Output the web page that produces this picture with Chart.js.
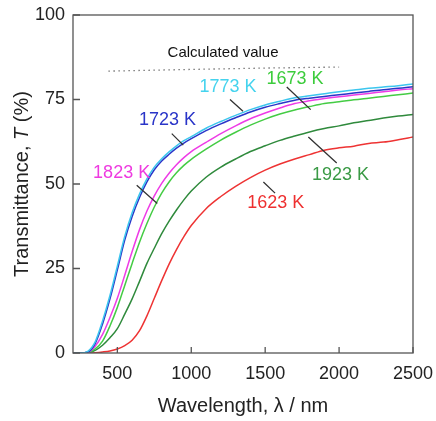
<!DOCTYPE html>
<html><head><meta charset="utf-8">
<script src="https://cdn.jsdelivr.net/npm/chart.js@4"></script>
<style>html,body{margin:0;padding:0;background:#fff;} #wrap{width:436px;height:421px;}</style>
</head><body><div id="wrap"><canvas id="c" width="436" height="421"></canvas></div>
<script>
// ---- data ----
const wavelengths = [200,250,300,350,400,450,500,550,600,650,700,750,800,850,900,950,1000,1100,1200,1300,1400,1500,1600,1700,1800,1900,2000,2100,2200,2300,2400,2500];
const t1623 = [0,0,0,0.1,0.3,0.6,1.2,2.2,3.8,6.6,11,16.2,21.4,26.3,30.6,34.4,37.7,42.7,46.3,49.3,51.9,54.1,55.9,57.4,58.7,60,60.7,61.2,62,62.4,63.1,63.9];
const t1673 = [0,0,0.1,1.2,3.5,8,13.5,20,26.5,32.8,38.3,43.2,47.3,50.6,53.3,55.5,57.3,60.3,63,65.3,67.4,69.2,70.7,71.9,72.9,73.8,74.3,74.9,75.4,75.9,76.4,76.9];
const t1723 = [0,0,0.3,2.8,8.6,16,24.6,33.4,40.4,46,50.6,54.2,56.8,58.8,60.6,62.1,63.4,65.8,67.8,69.6,71.3,72.7,73.8,74.8,75.4,75.9,76.4,76.9,77.4,77.9,78.3,78.8];
const t1773 = [0,0,0.5,3.3,9.5,17,25.7,34.5,41.5,47,51.5,55,57.5,59.5,61.3,62.8,64,66.5,68.5,70.3,72,73.4,74.5,75.5,76.1,76.7,77.3,77.8,78.3,78.7,79.1,79.6];
const t1823 = [0,0,0.2,2,5.5,10.5,16.2,23,30,36.5,42,46.5,50.2,53.2,55.7,57.8,59.6,62.3,64.9,67.2,69.3,71,72.5,73.8,74.6,75.3,75.8,76.3,76.8,77.3,77.8,78.2];
const t1923 = [0,0,0.1,0.8,2.3,4.5,7.2,11.5,16,21.2,26.5,31,35.3,39,42.3,45.3,47.9,52,55,57.4,59.6,61.3,62.9,64.2,65.4,66.4,67.2,68.1,68.8,69.5,70.1,70.6];
const calcWavelengths = [440,1000,1500,2000];
const calcValues = [83.4,83.9,84.3,84.6];
const xTickValues = [500,1000,1500,2000,2500];
const yTickValues = [0,25,50,75,100];

// ---- styles / annotations ----
const FONT = '"Liberation Sans", Arial, Helvetica, sans-serif';
const AXIS = '#555';
const annotations = [
  {text:'1773 K', color:'#45d3ee', at:[1249,78.6], from:[1262,75.0], to:[1350,71.5]},
  {text:'1673 K', color:'#3ccc3c', at:[1702,81.2], from:[1646,78.7], to:[1808,72.0]},
  {text:'1723 K', color:'#2a35c8', at:[839,69.0], from:[868,64.9], to:[946,61.5]},
  {text:'1823 K', color:'#ee3be0', at:[529,53.3], from:[631,49.6], to:[770,44.2]},
  {text:'1923 K', color:'#3a9a45', at:[2009,52.6], from:[1792,63.9], to:[1984,56.2]},
  {text:'1623 K', color:'#ee3030', at:[1572,44.4], from:[1488,50.6], to:[1567,47.3]}
];
const calcLabel = {text:'Calculated value', at:[1215,88.7]};

const pts = (xs, ys) => xs.map((v,i)=>({x:v, y:ys[i]}));
function line(label, ys, color, order){
  return {label, data:pts(wavelengths, ys), borderColor:color, borderWidth:1.5,
    pointRadius:0, fill:false, cubicInterpolationMode:'monotone', order};
}

const decor = {
  id:'decor',
  afterDatasetsDraw(chart){
    const {ctx, chartArea:a, scales:{x,y}} = chart;
    ctx.save();
    ctx.strokeStyle = AXIS; ctx.lineWidth = 1.3;
    ctx.strokeRect(a.left, a.top, a.right-a.left, a.bottom-a.top);
    ctx.beginPath();
    xTickValues.forEach(v=>{const px=x.getPixelForValue(v); ctx.moveTo(px,a.bottom); ctx.lineTo(px,a.bottom-6);});
    yTickValues.forEach(v=>{const py=y.getPixelForValue(v); ctx.moveTo(a.left,py); ctx.lineTo(a.left+7,py);});
    ctx.stroke();
    // leader lines
    ctx.strokeStyle = '#333'; ctx.lineWidth = 1.3;
    ctx.beginPath();
    annotations.forEach(an=>{
      ctx.moveTo(x.getPixelForValue(an.from[0]), y.getPixelForValue(an.from[1]));
      ctx.lineTo(x.getPixelForValue(an.to[0]), y.getPixelForValue(an.to[1]));
    });
    ctx.stroke();
    ctx.textAlign='center'; ctx.textBaseline='middle';
    ctx.font = '18px ' + FONT;
    annotations.forEach(an=>{
      ctx.fillStyle = an.color;
      ctx.fillText(an.text, x.getPixelForValue(an.at[0]), y.getPixelForValue(an.at[1]));
    });
    ctx.font = '15px ' + FONT; ctx.fillStyle = '#111';
    ctx.fillText(calcLabel.text, x.getPixelForValue(calcLabel.at[0]), y.getPixelForValue(calcLabel.at[1]));
    // y-axis title with italic T
    const parts = [['Transmittance, ','normal'],['T','italic'],[' (%)','normal']];
    let total = 0;
    parts.forEach(p=>{ctx.font = p[1]+' 20px '+FONT; total += ctx.measureText(p[0]).width;});
    ctx.translate(22, (a.top+a.bottom)/2);
    ctx.rotate(-Math.PI/2);
    ctx.textAlign='left'; ctx.fillStyle='#222';
    let cx = -total/2;
    parts.forEach(p=>{ctx.font = p[1]+' 20px '+FONT; ctx.fillText(p[0], cx, 0); cx += ctx.measureText(p[0]).width;});
    ctx.restore();
  }
};

new Chart(document.getElementById('c'), {
  type:'line',
  data:{datasets:[
    line('1773 K', t1773, '#3cc6ee', 0),
    line('1723 K', t1723, '#2a35c8', 1),
    line('1823 K', t1823, '#ee3be6', 2),
    line('1673 K', t1673, '#44cc44', 3),
    line('1923 K', t1923, '#2f8a3c', 4),
    line('1623 K', t1623, '#ee3333', 5),
    {label:'Calculated value', data:pts(calcWavelengths, calcValues), borderColor:'#666', borderWidth:1.3,
     borderDash:[1.3,3.7], pointRadius:0, fill:false, order:6}
  ]},
  options:{
    responsive:false, animation:false, devicePixelRatio:1,
    layout:{padding:{left:0, right:23, top:15, bottom:0}},
    plugins:{legend:{display:false}, tooltip:{enabled:false}},
    scales:{
      x:{type:'linear', min:200, max:2500,
        afterBuildTicks:(s)=>{s.ticks = xTickValues.map(v=>({value:v}));},
        afterFit:(s)=>{s.height = 68; s.paddingLeft = 0; s.paddingRight = 0;},
        grid:{display:false, drawTicks:false}, border:{display:false},
        ticks:{color:'#222', font:{family:FONT, size:18}, padding:10, maxRotation:0, autoSkip:false,
               callback:(v)=>String(v)},
        title:{display:true, text:'Wavelength, λ / nm', color:'#222', font:{family:FONT, size:20}, padding:{top:0,bottom:3}}
      },
      y:{type:'linear', min:0, max:100,
        afterBuildTicks:(s)=>{s.ticks = yTickValues.map(v=>({value:v}));},
        afterFit:(s)=>{s.width = 73; s.paddingTop = 0; s.paddingBottom = 0;},
        grid:{display:false, drawTicks:false}, border:{display:false},
        ticks:{color:'#222', font:{family:FONT, size:18}, padding:8, callback:(v)=>String(v)}
      }
    }
  },
  plugins:[decor]
});
</script></body></html>
